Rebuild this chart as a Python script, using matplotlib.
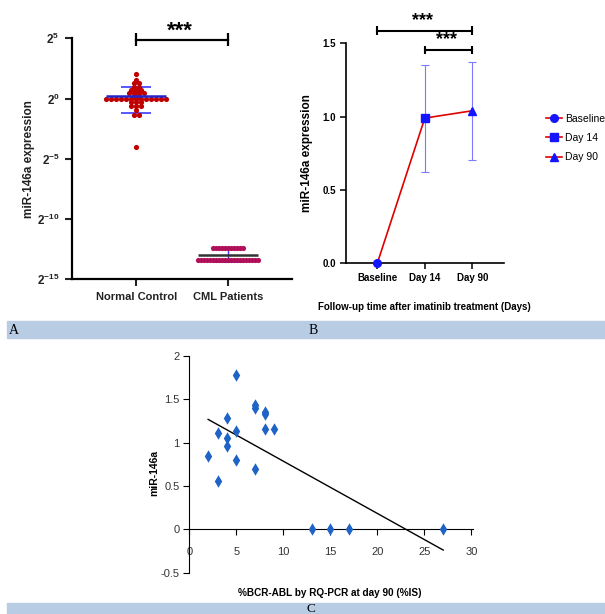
import matplotlib
matplotlib.use('Agg')
import matplotlib.pyplot as plt
import numpy as np
from matplotlib.lines import Line2D
from matplotlib.patches import Rectangle
from matplotlib.ticker import NullLocator

plt.rcParams['font.family'] = ['Liberation Sans', 'DejaVu Sans']
plt.rcParams['mathtext.fontset'] = 'custom'
plt.rcParams['mathtext.rm'] = 'Liberation Sans'
plt.rcParams['mathtext.bf'] = 'Liberation Sans:bold'

# --- panel A: miR-146a, normal vs CML (log2 rows of the dot plot) ---
groups_a = ['Normal Control', 'CML Patients']
nc_log2_rows = [2.07, 1.57, 1.25, 0.95, 0.72, 0.45, 0.22, 0.0, -0.28, -0.62, -0.95, -1.38, -4.0]
nc_row_counts = [1, 1, 2, 2, 3, 4, 2, 13, 3, 3, 1, 2, 1]
nc_mean, nc_sd = 1.19, 0.76
cml_log2_rows = [-12.37, -13.42]
cml_row_counts = [11, 21]
cml_mean, cml_sd = 1.27e-4, 4.6e-5
a_ticks_log2 = [5, 0, -5, -10, -15]

# --- panel B: follow-up after imatinib ---
timepoints = ['Baseline', 'Day 14', 'Day 90']
followup_mean = [0.0, 0.99, 1.04]
followup_sd = [0.0, 0.365, 0.335]

# --- panel C: miR-146a vs BCR-ABL at day 90 ---
bcr_abl = [2, 3, 3, 4, 4, 4, 5, 5, 5, 7, 7, 7, 8, 8, 8, 9, 13, 15, 17, 27]
mir146a = [0.85, 0.56, 1.11, 1.29, 1.05, 0.96, 1.78, 1.14, 0.80, 1.40, 1.43, 0.70,
           1.35, 1.33, 1.16, 1.16, 0, 0, 0, 0]

W, H = 605, 614
fig = plt.figure(figsize=(W / 100, H / 100), dpi=100)


def box(l, t, r, b):
    # pixel box -> figure fraction
    return [l / W, 1 - b / H, (r - l) / W, (b - t) / H]


def swarm(center, rows, counts, step):
    xs, ys = [], []
    for r, n in zip(rows, counts):
        xs.extend(center + (np.arange(n) - (n - 1) / 2) * step)
        ys.extend([2.0 ** r] * n)
    return np.array(xs), np.array(ys)


# ================= A =================
axA = fig.add_axes(box(72, 38.3, 292, 279.3))
axA.set_yscale('log', base=2)
axA.set_ylim(2.0 ** -15, 2.0 ** 5)
axA.set_xlim(-0.7, 1.7)

x, y = swarm(0, nc_log2_rows, nc_row_counts, 0.054)
axA.scatter(x, y, s=14, color='#c00000', zorder=3, linewidths=0)
x, y = swarm(1, cml_log2_rows, cml_row_counts, 0.0326)
axA.scatter(x, y, s=14, color='#b0105a', zorder=3, linewidths=0)

for i, m, sd, mc in [(0, nc_mean, nc_sd, '#2323c8'), (1, cml_mean, cml_sd, '#333333')]:
    axA.vlines(i, m - sd, m + sd, color='#3a3aff', lw=1, zorder=2)
    axA.hlines([m - sd, m + sd], i - 0.165, i + 0.165, color='#3a3aff', lw=1.2, zorder=2)
    axA.hlines(m, i - 0.33, i + 0.33, color=mc, lw=1.8, zorder=4)

for s in ['top', 'right']:
    axA.spines[s].set_visible(False)
for s in ['left', 'bottom']:
    axA.spines[s].set_linewidth(1.6)
axA.set_yticks([2.0 ** k for k in a_ticks_log2])
axA.set_yticklabels([r'$\mathbf{2^{%d}}$' % k for k in a_ticks_log2], fontsize=8.5)
axA.yaxis.set_minor_locator(NullLocator())
axA.set_xticks([0, 1])
axA.set_xticklabels(groups_a, fontsize=8, fontweight='bold')
axA.tick_params(width=1.5, length=5, pad=4, colors='#222222')
axA.set_ylabel('miR-146a expression', fontsize=8.5, fontweight='bold', color='#222222')
axA.yaxis.set_label_coords(-0.168, 0.5)

axA.plot([0, 1], [2 ** 4.83] * 2, color='k', lw=1.6, clip_on=False)
axA.vlines([0, 1], 2 ** 4.36, 2 ** 5.41, color='k', lw=1.6, clip_on=False)
axA.text(0.48, 2 ** 5.6, '***', ha='center', va='center', fontsize=16,
         fontweight='bold', clip_on=False)

# ================= B =================
axB = fig.add_axes(box(345.7, 43.3, 504, 263.3))
axB.set_xlim(-0.665, 2.667)
axB.set_ylim(0, 1.5)
xs = np.arange(len(timepoints))
axB.errorbar(xs, followup_mean, yerr=followup_sd, fmt='none', ecolor='#7b7bff',
             elinewidth=0.8, capsize=3, capthick=0.8, zorder=2)
axB.plot(xs, followup_mean, color='#e00000', lw=1.2, zorder=3, clip_on=False)
markers = ['o', 's', '^']
for xi, yi, mk in zip(xs, followup_mean, markers):
    axB.plot(xi, yi, marker=mk, color='#1414ff', ms=5.5, ls='none', zorder=4, clip_on=False)

for s in ['top', 'right']:
    axB.spines[s].set_visible(False)
for s in ['left', 'bottom']:
    axB.spines[s].set_linewidth(1.2)
axB.set_xticks(xs)
axB.set_xticklabels(timepoints, fontsize=7, fontweight='bold')
axB.set_yticks([0, 0.5, 1.0, 1.5])
axB.set_yticklabels(['%.1f' % v for v in [0, 0.5, 1.0, 1.5]], fontsize=7, fontweight='bold')
axB.tick_params(width=1.1, length=4, pad=3)
axB.set_ylabel('miR-146a expression', fontsize=8.5, fontweight='bold')
axB.yaxis.set_label_coords(-0.207, 0.5)
axB.set_xlabel('Follow-up time after imatinib treatment (Days)', fontsize=7,
               fontweight='bold')
axB.xaxis.set_label_coords(0.5, -0.175)

for x0, yb, ystar in [(0, 1.586, 1.655), (1, 1.454, 1.523)]:
    axB.plot([x0, 2], [yb, yb], color='k', lw=1.5, clip_on=False)
    axB.vlines([x0, 2], yb - 0.03, yb + 0.03, color='k', lw=1.5, clip_on=False)
    axB.text((x0 + 2) / 2 - 0.04, ystar, '***', ha='center', va='center', fontsize=13,
             fontweight='bold', clip_on=False)

handles = [Line2D([], [], color='#e00000', lw=1.2, marker=mk, mfc='#1414ff',
                  mec='#1414ff', ms=5.5) for mk in markers]
fig.legend(handles, timepoints, loc='center left', bbox_to_anchor=(546 / W, 1 - 138 / H),
           frameon=False, prop={'size': 7.5}, handlelength=1.5,
           handletextpad=0.35, labelspacing=0.9, borderpad=0, borderaxespad=0)

# ================= C =================
axC = fig.add_axes(box(189.3, 356, 473.3, 572.6))
axC.set_xlim(0, 30.2)
axC.set_ylim(-0.5, 2)
axC.scatter(bcr_abl, mir146a, marker='d', s=40, color='#1f63c6', zorder=3,
            linewidths=0, clip_on=False)
k, b = np.polyfit(bcr_abl, mir146a, 1)
xx = np.array([min(bcr_abl), max(bcr_abl)])
axC.plot(xx, k * xx + b, color='k', lw=1, zorder=2)

axC.spines['top'].set_visible(False)
axC.spines['right'].set_visible(False)
axC.spines['bottom'].set_position(('data', 0))
for s in ['left', 'bottom']:
    axC.spines[s].set_linewidth(0.8)
axC.set_xticks(np.arange(0, 31, 5))
axC.set_yticks([-0.5, 0, 0.5, 1, 1.5, 2])
axC.yaxis.set_major_formatter(lambda v, p: '%g' % v)
axC.tick_params(axis='x', length=4, width=0.8, pad=9, labelsize=8, labelcolor='#333333')
axC.tick_params(axis='y', length=4, width=0.8, pad=3, labelsize=8, labelcolor='#333333')
axC.set_ylabel('miR-146a', fontsize=7.5, fontweight='bold')
axC.yaxis.set_label_coords(-0.107, 0.46)
axC.set_xlabel('%BCR-ABL by RQ-PCR at day 90 (%IS)', fontsize=7.2, fontweight='bold')
axC.xaxis.set_label_coords(0.495, -0.071)

# panel caption bands
band = '#b8cce4'
fig.add_artist(Rectangle((7 / W, 1 - 338 / H), 1, 17 / H, transform=fig.transFigure,
                         color=band, zorder=0))
fig.add_artist(Rectangle((7 / W, 0), 1, 11 / H, transform=fig.transFigure,
                         color=band, zorder=0))
serif = ['Liberation Serif', 'DejaVu Serif']
fig.text(9 / W, 1 - 330 / H, 'A', family=serif, fontsize=10, va='center')
fig.text(309 / W, 1 - 330 / H, 'B', family=serif, fontsize=10, va='center')
fig.text(306 / W, 1 - 612.5 / H, 'C', family=serif, fontsize=9.5, va='baseline')

fig.savefig('out.png', dpi=100)
